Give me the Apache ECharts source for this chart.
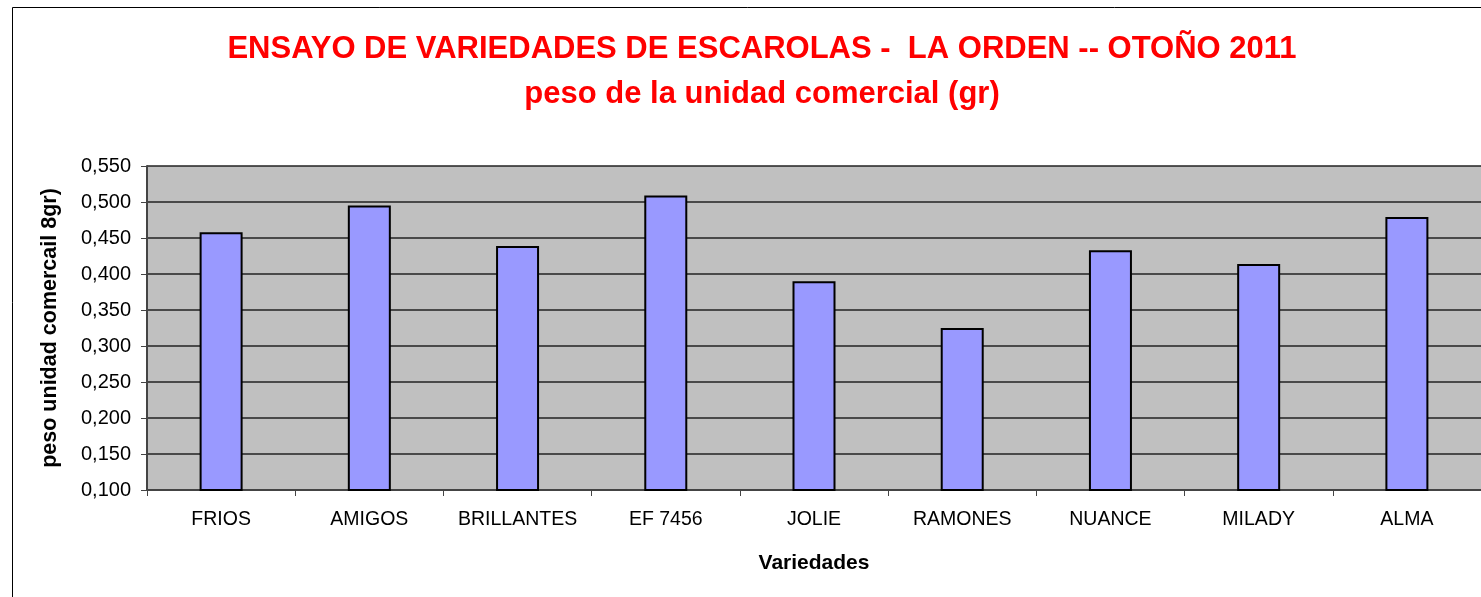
<!DOCTYPE html>
<html>
<head>
<meta charset="utf-8">
<script src="https://cdn.jsdelivr.net/npm/echarts@6/dist/echarts.min.js"></script>
<style>
  html, body { margin: 0; padding: 0; background: #fff; }
  #chart { width: 1481px; height: 597px; }
</style>
</head>
<body>
<div id="chart"></div>
<script>
var variedades = ['FRIOS', 'AMIGOS', 'BRILLANTES', 'EF 7456', 'JOLIE', 'RAMONES', 'NUANCE', 'MILADY', 'ALMA'];
var pesoUnidad = [0.458, 0.495, 0.439, 0.509, 0.390, 0.325, 0.433, 0.414, 0.479];
var yMin = 0.1, yMax = 0.55, yStep = 0.05;

var myChart = echarts.init(document.getElementById('chart'));
myChart.setOption({
  backgroundColor: '#fff',
  animation: false,
  title: {
    text: 'ENSAYO DE VARIEDADES DE ESCAROLAS -  LA ORDEN -- OTOÑO 2011\npeso de la unidad comercial (gr)',
    left: 757,
    top: 22,
    textAlign: 'center',
    textStyle: {
      fontFamily: 'Liberation Sans, Arial',
      fontSize: 31,
      fontWeight: 'bold',
      color: '#ff0000',
      lineHeight: 45
    }
  },
  graphic: [
    {
      type: 'rect',
      shape: {x: 12.5, y: 7.5, width: 1500, height: 600},
      style: {fill: null, stroke: '#000', lineWidth: 1},
      silent: true
    }
  ],
  grid: {
    left: 147,
    top: 166,
    width: 1337,
    height: 324,
    show: true,
    backgroundColor: '#c0c0c0',
    borderWidth: 0
  },
  xAxis: {
    type: 'category',
    data: variedades,
    name: 'Variedades',
    nameLocation: 'middle',
    nameGap: 63,
    nameTextStyle: {
      fontFamily: 'Liberation Sans, Arial',
      fontSize: 21,
      fontWeight: 'bold',
      color: '#000'
    },
    axisLine: {lineStyle: {color: '#444', width: 2}},
    axisTick: {show: true, interval: 0, length: 6, lineStyle: {color: '#444'}},
    axisLabel: {
      interval: 0,
      hideOverlap: false,
      margin: 20,
      fontFamily: 'Liberation Sans, Arial',
      fontSize: 19.5,
      color: '#000'
    }
  },
  yAxis: {
    type: 'value',
    min: yMin,
    max: yMax,
    interval: yStep,
    name: 'peso unidad comercail 8gr)',
    nameLocation: 'middle',
    nameGap: 86,
    nameTextStyle: {
      fontFamily: 'Liberation Sans, Arial',
      fontSize: 21.5,
      fontWeight: 'bold',
      color: '#000'
    },
    axisLine: {show: true, lineStyle: {color: '#444', width: 2}},
    axisTick: {show: true, length: 6, lineStyle: {color: '#444'}},
    axisLabel: {
      margin: 16,
      fontFamily: 'Liberation Sans, Arial',
      fontSize: 20,
      color: '#000',
      formatter: function (v) {
        return v.toFixed(3).replace('.', ',');
      }
    },
    splitLine: {show: true, lineStyle: {color: '#222', width: 1.5}}
  },
  series: [
    {
      name: 'peso',
      type: 'bar',
      data: pesoUnidad,
      barWidth: 43,
      itemStyle: {
        color: '#9999ff',
        borderColor: '#000',
        borderWidth: 2
      }
    }
  ]
});
</script>
</body>
</html>
